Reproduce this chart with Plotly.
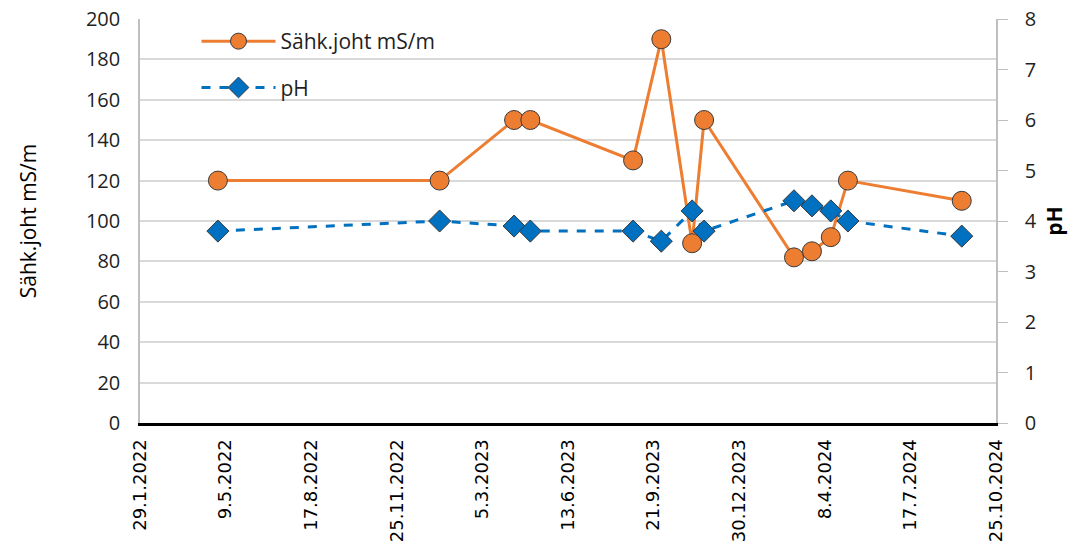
import plotly.graph_objects as go

dates = ["2022-04-30", "2023-01-14", "2023-04-11", "2023-04-30", "2023-08-28",
         "2023-09-30", "2023-11-05", "2023-11-19", "2024-03-03", "2024-03-24",
         "2024-04-15", "2024-05-05", "2024-09-15"]
conductivity = [120, 120, 150, 150, 130, 190, 89, 150, 82, 85, 92, 120, 110]
ph = [3.8, 4.0, 3.9, 3.8, 3.8, 3.6, 4.2, 3.8, 4.4, 4.3, 4.2, 4.0, 3.7]

cond_name = "Sähk.joht mS/m"
ph_name = "pH"
x_start, x_end = "2022-01-29", "2024-10-25"
DAY_MS = 86400000

FONT = "Open Sans"
fig = go.Figure()
fig.add_trace(go.Scatter(
    x=dates, y=conductivity, name=cond_name, mode="lines+markers",
    line=dict(color="#ED7D31", width=3),
    marker=dict(symbol="circle", size=19, color="#ED7D31",
                line=dict(color="#3A3A3A", width=1)),
    legendgroup="a", yaxis="y"))
fig.add_trace(go.Scatter(
    x=dates, y=ph, name=ph_name, mode="lines+markers",
    line=dict(color="#0070C0", width=3, dash="dash"),
    marker=dict(symbol="diamond", size=17, color="#0070C0",
                line=dict(color="#3A3A3A", width=1)),
    legendgroup="b", yaxis="y2"))

fig.update_layout(
    width=1078, height=550,
    margin=dict(l=140, r=82, t=19, b=127, autoexpand=False),
    paper_bgcolor="white", plot_bgcolor="white",
    font=dict(family=FONT, color="#1F1F1F"),
    showlegend=True,
    legend=dict(x=0.066, y=0.995, xanchor="left", yanchor="top",
                bgcolor="rgba(0,0,0,0)", font=dict(size=21, family=FONT),
                tracegroupgap=16, itemwidth=74),
    xaxis=dict(
        type="date", range=[x_start, x_end], automargin=False,
        tick0=x_start, dtick=100 * DAY_MS, tickformat="%-d.%-m.%Y",
        tickangle=-90, tickfont=dict(family="DejaVu Sans", size=18, color="#000000"),
        ticklabelstandoff=6, ticklabeloverflow="allow",
        showgrid=False, showline=True, linecolor="#000000", linewidth=3,
        ticks="", zeroline=False),
    yaxis=dict(
        range=[0, 200], dtick=20, showgrid=True, gridcolor="#D9D9D9", gridwidth=1.5,
        showline=True, linecolor="#BFBFBF", linewidth=1.5, ticks="",
        zeroline=False, tickfont=dict(size=20, color="#1F1F1F"),
        ticklabelstandoff=14, automargin=False, ticklabeloverflow="allow",
        title=dict(text=cond_name, font=dict(size=21, color="#000000"), standoff=44)),
    yaxis2=dict(
        range=[0, 8], dtick=1, overlaying="y", side="right", showgrid=False,
        showline=True, linecolor="#BFBFBF", linewidth=1.5, ticks="outside",
        ticklen=10, tickcolor="#BFBFBF", zeroline=False, automargin=False,
        tickfont=dict(size=20, color="#1F1F1F"), ticklabelstandoff=13,
        ticklabeloverflow="allow",
        title=dict(text="<b>" + ph_name + "</b>", font=dict(size=21, color="#000000"),
                   standoff=12)),
)

fig.write_html("out.html", config={"displayModeBar": False},
               post_script="document.body.style.margin='0';document.body.style.overflow='hidden';")
